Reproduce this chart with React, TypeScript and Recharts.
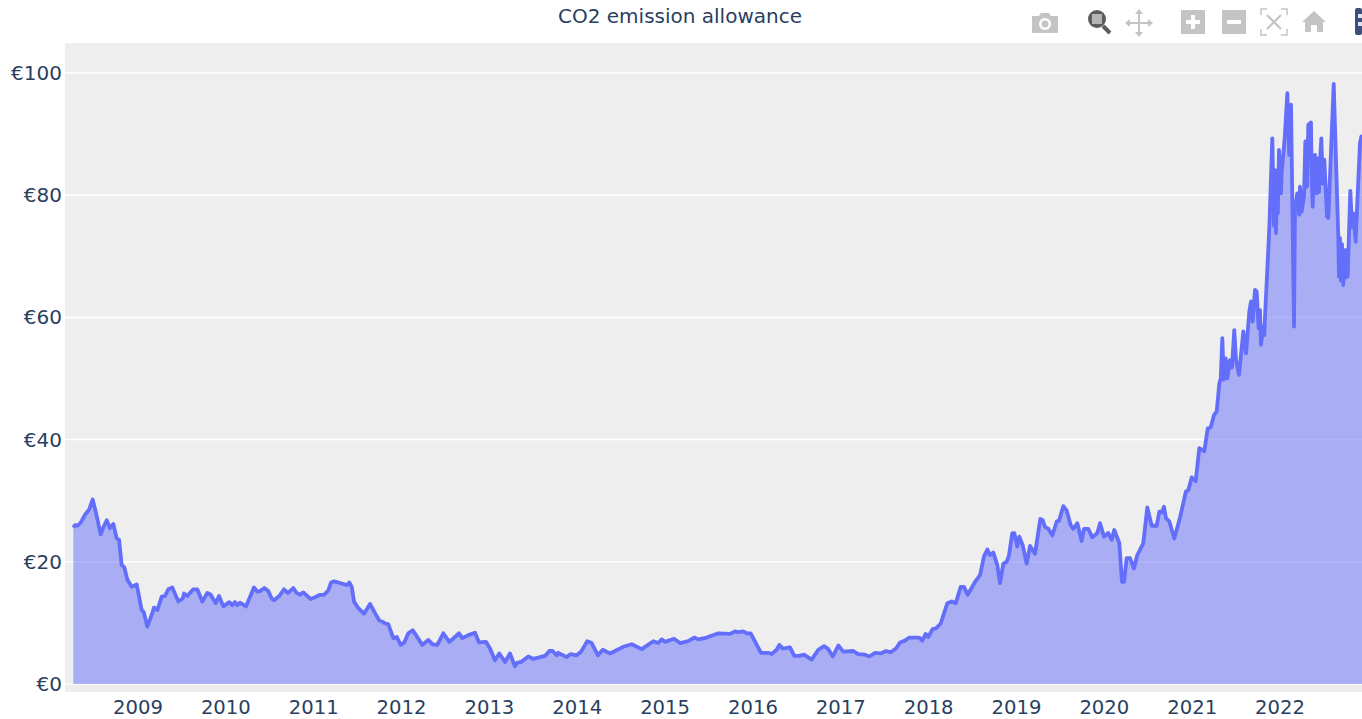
import { Area, AreaChart, CartesianGrid, XAxis, YAxis } from 'recharts';

const FONT = '"DejaVu Sans", sans-serif';
const TEXT_COLOR = '#2a3f5f';
const ICON_COLOR = '#c4c4c4';

const yearTicks = [2009, 2010, 2011, 2012, 2013, 2014, 2015, 2016, 2017, 2018, 2019, 2020, 2021, 2022];
const priceTicks = [0, 20, 40, 60, 80, 100];

// decimal years
const dates = [
    2008.264, 2008.283, 2008.309, 2008.348, 2008.397, 2008.446, 2008.484, 2008.522, 2008.575, 2008.605,
    2008.644, 2008.681, 2008.719, 2008.758, 2008.784, 2008.814, 2008.844, 2008.878, 2008.928, 2008.985,
    2009.042, 2009.065, 2009.106, 2009.156, 2009.182, 2009.22, 2009.27, 2009.307, 2009.345, 2009.39,
    2009.459, 2009.509, 2009.524, 2009.561, 2009.629, 2009.675, 2009.732, 2009.789, 2009.828, 2009.884,
    2009.922, 2009.971, 2010.039, 2010.073, 2010.104, 2010.13, 2010.161, 2010.229, 2010.32, 2010.358,
    2010.389, 2010.438, 2010.483, 2010.522, 2010.548, 2010.608, 2010.662, 2010.707, 2010.768, 2010.806,
    2010.844, 2010.882, 2010.966, 2011.015, 2011.072, 2011.117, 2011.166, 2011.197, 2011.234, 2011.376,
    2011.405, 2011.433, 2011.459, 2011.508, 2011.573, 2011.641, 2011.698, 2011.747, 2011.785, 2011.812,
    2011.849, 2011.906, 2011.945, 2011.99, 2012.031, 2012.077, 2012.127, 2012.164, 2012.236, 2012.304,
    2012.355, 2012.407, 2012.475, 2012.544, 2012.608, 2012.654, 2012.692, 2012.76, 2012.836, 2012.882,
    2012.961, 2013.007, 2013.064, 2013.113, 2013.178, 2013.234, 2013.291, 2013.318, 2013.36, 2013.443,
    2013.5, 2013.633, 2013.682, 2013.721, 2013.766, 2013.784, 2013.88, 2013.925, 2013.994, 2014.043,
    2014.114, 2014.164, 2014.236, 2014.29, 2014.373, 2014.487, 2014.524, 2014.62, 2014.734, 2014.866,
    2014.923, 2014.961, 2014.999, 2015.101, 2015.17, 2015.264, 2015.332, 2015.378, 2015.473, 2015.606,
    2015.739, 2015.796, 2015.833, 2015.89, 2015.929, 2015.974, 2016.092, 2016.175, 2016.213, 2016.27,
    2016.3, 2016.339, 2016.422, 2016.471, 2016.528, 2016.581, 2016.669, 2016.744, 2016.809, 2016.858,
    2016.908, 2016.972, 2017.028, 2017.142, 2017.199, 2017.276, 2017.325, 2017.389, 2017.454, 2017.515,
    2017.568, 2017.628, 2017.674, 2017.731, 2017.78, 2017.825, 2017.894, 2017.928, 2017.966, 2017.996,
    2018.046, 2018.084, 2018.137, 2018.212, 2018.262, 2018.308, 2018.365, 2018.402, 2018.444, 2018.528,
    2018.585, 2018.63, 2018.668, 2018.698, 2018.736, 2018.781, 2018.812, 2018.85, 2018.888, 2018.915,
    2018.952, 2018.975, 2019.009, 2019.032, 2019.071, 2019.116, 2019.154, 2019.211, 2019.271, 2019.298,
    2019.324, 2019.362, 2019.408, 2019.458, 2019.484, 2019.533, 2019.571, 2019.617, 2019.647, 2019.692,
    2019.742, 2019.768, 2019.817, 2019.863, 2019.92, 2019.951, 2019.996, 2020.045, 2020.084, 2020.113,
    2020.17, 2020.201, 2020.224, 2020.254, 2020.292, 2020.337, 2020.375, 2020.443, 2020.489, 2020.539,
    2020.596, 2020.626, 2020.653, 2020.679, 2020.702, 2020.74, 2020.796, 2020.861, 2020.929, 2020.956,
    2020.994, 2021.04, 2021.081, 2021.138, 2021.177, 2021.211, 2021.248, 2021.279, 2021.309, 2021.325,
    2021.343, 2021.359, 2021.381, 2021.4, 2021.43, 2021.453, 2021.479, 2021.499, 2021.533, 2021.582,
    2021.613, 2021.65, 2021.67, 2021.689, 2021.715, 2021.734, 2021.757, 2021.772, 2021.783, 2021.809,
    2021.821, 2021.829, 2021.878, 2021.912, 2021.931, 2021.943, 2021.954, 2021.965, 2021.975, 2021.988,
    2022.011, 2022.02, 2022.03, 2022.053, 2022.083, 2022.105, 2022.125, 2022.159, 2022.17, 2022.196,
    2022.219, 2022.227, 2022.246, 2022.273, 2022.288, 2022.307, 2022.322, 2022.352, 2022.362, 2022.372,
    2022.385, 2022.398, 2022.407, 2022.417, 2022.43, 2022.443, 2022.457, 2022.47, 2022.486, 2022.504,
    2022.535, 2022.55, 2022.611, 2022.663, 2022.671, 2022.682, 2022.694, 2022.705, 2022.72, 2022.734,
    2022.747, 2022.757, 2022.77, 2022.8, 2022.819, 2022.834, 2022.861, 2022.879, 2022.91, 2022.925, 2022.944,
];

const prices = [
    25.6, 26.0, 25.9, 26.4, 27.7, 28.6, 30.2, 28.0, 24.5, 25.6,
    26.8, 25.5, 26.2, 23.8, 23.6, 19.5, 19.1, 17.1, 15.9, 16.3,
    12.1, 11.8, 9.4, 11.3, 12.5, 12.1, 14.3, 14.4, 15.5, 15.8,
    13.5, 14.0, 14.8, 14.4, 15.5, 15.5, 13.5, 14.9, 14.6, 13.2,
    14.4, 12.7, 13.4, 12.9, 13.4, 12.9, 13.3, 12.7, 15.8, 15.1,
    15.2, 15.7, 15.2, 14.0, 13.7, 14.4, 15.5, 14.9, 15.7, 14.9,
    14.6, 15.0, 13.9, 14.2, 14.6, 14.6, 15.3, 16.6, 16.8, 16.2,
    16.6, 15.9, 13.5, 12.4, 11.5, 13.1, 11.6, 10.4, 10.2, 9.9,
    9.8, 7.5, 7.7, 6.4, 6.8, 8.3, 8.8, 8.0, 6.4, 7.2,
    6.5, 6.4, 8.3, 6.9, 7.7, 8.3, 7.5, 8.0, 8.4, 6.8,
    6.9, 5.8, 3.9, 5.0, 3.6, 5.0, 2.9, 3.5, 3.6, 4.5,
    4.1, 4.6, 5.4, 5.4, 4.7, 5.1, 4.4, 4.9, 4.7, 5.3,
    7.0, 6.7, 4.7, 5.6, 5.0, 5.8, 6.1, 6.5, 5.7, 7.0,
    6.7, 7.3, 6.9, 7.4, 6.7, 7.0, 7.6, 7.3, 7.6, 8.3,
    8.2, 8.6, 8.5, 8.6, 8.3, 8.3, 5.1, 5.1, 4.9, 5.6,
    6.4, 5.8, 6.0, 4.6, 4.6, 4.8, 4.0, 5.6, 6.2, 5.7,
    4.5, 6.3, 5.3, 5.4, 4.9, 4.8, 4.5, 5.1, 5.0, 5.4,
    5.2, 5.8, 6.8, 7.1, 7.6, 7.6, 7.6, 7.1, 8.2, 7.7,
    9.0, 9.1, 9.9, 13.2, 13.5, 13.2, 15.9, 15.9, 14.6, 16.7,
    17.8, 20.9, 22.0, 21.1, 21.5, 19.5, 16.5, 19.7, 20.0, 21.1,
    24.7, 24.7, 22.5, 24.1, 22.7, 19.7, 22.6, 21.3, 27.0, 26.8,
    25.7, 25.4, 24.3, 26.6, 26.7, 29.1, 28.4, 26.0, 25.4, 26.3,
    23.4, 25.4, 25.4, 24.0, 24.7, 26.3, 24.1, 24.7, 23.6, 25.2,
    23.1, 16.7, 16.7, 20.6, 20.6, 18.9, 21.1, 23.0, 28.9, 25.9,
    25.9, 28.2, 28.1, 29.0, 27.1, 26.6, 23.8, 27.2, 31.5, 31.7,
    33.8, 33.2, 38.6, 38.1, 41.8, 42.0, 44.0, 44.6, 49.2, 50.0,
    56.6, 49.8, 53.3, 50.0, 53.0, 51.8, 57.9, 53.0, 50.6, 57.7,
    54.1, 60.9, 62.6, 59.3, 64.5, 64.2, 58.2, 61.2, 55.5, 58.5,
    57.1, 60.1, 74.6, 89.3, 75.0, 84.1, 73.8, 81.0, 77.0, 87.4,
    80.3, 84.0, 85.5, 89.3, 96.7, 86.6, 94.8, 58.5, 77.6, 80.3,
    76.8, 81.4, 77.3, 79.8, 88.8, 81.4, 91.5, 91.9, 82.0, 78.1,
    85.0, 86.6, 81.0, 80.3, 86.0, 80.5, 86.0, 89.3, 81.9, 85.8,
    76.5, 76.3, 98.2, 73.2, 66.7, 73.0, 66.0, 72.0, 65.3, 71.0,
    66.5, 71.0, 66.7, 80.7, 74.8, 77.0, 72.4, 78.6, 88.5, 89.6, 89.0,
];

const chartData = dates.map((date, i) => ({ date, price: prices[i] }));

function ModeBar() {
    return (
        <svg width={1362} height={43} style={{ position: 'absolute', left: 0, top: 0 }}>
            {/* camera */}
            <path d="M1032 16h7l2-3h8l2 3h7v17h-26z" fill={ICON_COLOR} />
            <circle cx={1045} cy={24} r={6} fill="#fff" />
            <circle cx={1045} cy={24} r={3.5} fill={ICON_COLOR} />
            {/* zoom, active */}
            <circle cx={1097} cy={19} r={9} fill="#5c5c5c" />
            <rect x={1092} y={14} width={10} height={10} fill="#b5b5b5" />
            <line x1={1103} y1={26} x2={1110} y2={33} stroke="#5c5c5c" strokeWidth={4} />
            {/* pan */}
            <path
                d="M1139 9l4 5h-3v8h8v-3l5 4-5 4v-3h-8v8h3l-4 5-4-5h3v-8h-8v3l-5-4 5-4v3h8v-8h-3z"
                fill={ICON_COLOR}
            />
            {/* zoom in */}
            <rect x={1181} y={10} width={24} height={24} fill={ICON_COLOR} />
            <path d="M1191 15h4v5h5v4h-5v5h-4v-5h-5v-4h5z" fill="#fff" />
            {/* zoom out */}
            <rect x={1222} y={10} width={24} height={24} fill={ICON_COLOR} />
            <rect x={1227} y={20} width={14} height={4} fill="#fff" />
            {/* autoscale */}
            <path
                d="M1261 15v-6h6M1281 9h6v6M1287 29v6h-6M1267 35h-6v-6"
                fill="none"
                stroke={ICON_COLOR}
                strokeWidth={1.5}
            />
            <path d="M1267 15l14 14M1281 15l-14 14" stroke={ICON_COLOR} strokeWidth={2} />
            {/* home */}
            <path d="M1314 11l12 11h-3v10h-6v-7h-6v7h-6v-10h-3z" fill={ICON_COLOR} />
            {/* plotly logo, cut off by the window */}
            <rect x={1355} y={8} width={7} height={27} rx={2} fill="#3d4f7c" />
            <rect x={1358} y={14} width={4} height={4} fill="#dfe3ee" />
            <rect x={1358} y={22} width={4} height={4} fill="#dfe3ee" />
        </svg>
    );
}

export default function App() {
    return (
        <div
            style={{
                position: 'absolute',
                left: 0,
                top: 0,
                width: 1362,
                height: 719,
                overflow: 'hidden',
                background: '#fff',
            }}
        >
            <AreaChart
                width={1362}
                height={719}
                data={chartData}
                margin={{ top: 43, right: 0, bottom: 0, left: 0 }}
            >
                <CartesianGrid
                    vertical={false}
                    fill="#eeeeee"
                    stroke="#ffffff"
                    strokeWidth={1.6}
                    horizontalValues={priceTicks}
                />
                <XAxis
                    dataKey="date"
                    type="number"
                    domain={[2008.169, 2022.933]}
                    allowDataOverflow
                    ticks={yearTicks}
                    interval={0}
                    height={27}
                    axisLine={false}
                    tickLine={false}
                    tickSize={0}
                    tickMargin={8}
                    tick={{ fill: TEXT_COLOR, fontSize: 19.6, fontFamily: FONT }}
                />
                <YAxis
                    type="number"
                    domain={[-1.31, 104.9]}
                    allowDataOverflow
                    ticks={priceTicks}
                    interval={0}
                    width={65}
                    axisLine={false}
                    tickLine={false}
                    tickSize={0}
                    tickMargin={3}
                    tickFormatter={(v: number) => `€${v}`}
                    tick={{ fill: TEXT_COLOR, fontSize: 20, fontFamily: FONT }}
                />
                <Area
                    type="linear"
                    dataKey="price"
                    stroke="#636efa"
                    strokeWidth={3.8}
                    strokeLinejoin="round"
                    fill="#636efa"
                    fillOpacity={0.5}
                    dot={false}
                    activeDot={false}
                    isAnimationActive={false}
                />
            </AreaChart>
            <div
                style={{
                    position: 'absolute',
                    left: 0,
                    top: 4,
                    width: 1360,
                    textAlign: 'center',
                    fontFamily: FONT,
                    fontSize: 20,
                    lineHeight: '24px',
                    color: TEXT_COLOR,
                }}
            >
                CO2 emission allowance
            </div>
            <ModeBar />
        </div>
    );
}
